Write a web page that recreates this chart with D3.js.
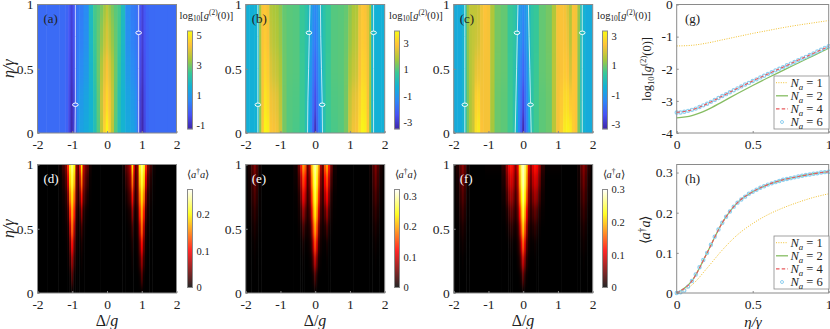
<!DOCTYPE html>
<html>
<head>
<meta charset="utf-8">
<script src="https://cdn.jsdelivr.net/npm/d3@7"></script>
<style>
  body { margin: 0; background: #fff; }
  svg { display: block; font-family: "Liberation Serif", serif; }
  .tick text { fill: #222; }
</style>
</head>
<body>
<svg id="chart" width="830" height="329"></svg>
<script>
// rows run from eta = 0 upward
const topEtas = [0, 0.25, 0.5, 0.75, 1];
const lowEtas = [0, 0.125, 0.25, 0.375, 0.5, 0.625, 0.75, 0.875, 1];

const deltaA = [-2, -1.5, -1.25, -1.15, -1.08, -1.02, -0.96, -0.9, -0.84, -0.75, -0.6, -0.45, -0.35, -0.25, -0.15, -0.07, 0,
  0.07, 0.15, 0.25, 0.35, 0.45, 0.6, 0.75, 0.84, 0.9, 0.96, 1.02, 1.08, 1.15, 1.25, 1.5, 2];
const g2A = [
  [.1,.1,.08,-.05,-.6,-1.2,-.8,0,.9,1.2,1.35,1.6,2,2.7,3.6,4.6,5.2,4.6,3.6,2.7,2,1.6,1.35,1.2,.9,0,-.8,-1.2,-.6,-.05,.08,.1,.1],
  [.1,.1,.08,-.05,-.5,-1.1,-.7,0,.75,1,1.25,1.6,2.1,2.8,3.7,4.3,4.7,4.3,3.7,2.8,2.1,1.6,1.25,1,.75,0,-.7,-1.1,-.5,-.05,.08,.1,.1],
  [.1,.1,.08,-.05,-.4,-.9,-.5,0,.5,.7,1,1.7,2.3,2.9,3.5,4,4.3,4,3.5,2.9,2.3,1.7,1,.7,.5,0,-.5,-.9,-.4,-.05,.08,.1,.1],
  [.1,.1,.08,-.05,-.3,-.75,-.4,0,.35,.5,.8,1.8,2.5,2.85,3.2,3.6,3.9,3.6,3.2,2.85,2.5,1.8,.8,.5,.35,0,-.4,-.75,-.3,-.05,.08,.1,.1],
  [.1,.1,.08,0,-.25,-.65,-.3,0,.3,.4,.7,1.9,2.6,2.75,3,3.3,3.6,3.3,3,2.75,2.6,1.9,.7,.4,.3,0,-.3,-.65,-.25,0,.08,.1,.1]
];

const deltaB = [-2, -1.8, -1.7, -1.64, -1.58, -1.52, -1.44, -1.36, -1.28, -1.2, -1.1, -1, -0.9, -0.75, -0.55, -0.35, -0.25, -0.18, -0.12, -0.06, 0,
  0.06, 0.12, 0.18, 0.25, 0.35, 0.55, 0.75, 0.9, 1, 1.1, 1.2, 1.28, 1.36, 1.44, 1.52, 1.58, 1.64, 1.7, 1.8, 2];
const g2B = [
  [-.35,-.35,-.3,0,1.5,2.9,3.8,3.7,2.9,2.8,2.7,2.2,1.3,1,.9,.75,.3,-.5,-1.3,-2.2,-3.3,-2.2,-1.3,-.5,.3,.75,.9,1,1.3,2.3,2.7,2.8,3.4,3.8,3.7,2.9,1.6,0,-.3,-.35,-.35],
  [-.35,-.35,-.3,0,1.5,2.8,3.5,3.3,2.7,2.6,2.5,2,1.3,1,.95,.75,.3,-.4,-1.2,-1.9,-2.6,-1.9,-1.2,-.4,.3,.75,.95,1,1.3,2.1,2.5,2.6,3.1,3.5,3.4,2.8,1.6,0,-.3,-.35,-.35],
  [-.35,-.35,-.3,0,1.6,2.8,3.2,3,2.4,2.2,2.1,1.8,1.25,1.05,1,.75,.35,-.2,-1,-1.6,-2.1,-1.6,-1,-.2,.35,.75,1,1.05,1.25,1.8,2.1,2.2,2.8,3.2,3.1,2.7,1.7,0,-.3,-.35,-.35],
  [-.35,-.35,-.3,0,1.7,2.8,3,2.8,2.1,1.95,1.85,1.6,1.2,1.05,1,.7,.4,0,-.8,-1.3,-1.6,-1.3,-.8,0,.4,.7,1,1.05,1.2,1.6,1.9,2,2.7,3,2.9,2.6,1.7,0,-.3,-.35,-.35],
  [-.35,-.35,-.3,0,1.8,2.8,2.9,2.7,1.9,1.8,1.75,1.5,1.15,1.05,1,.7,.45,.1,-.7,-1.1,-1.3,-1.1,-.7,.1,.45,.7,1,1.05,1.15,1.5,1.8,1.85,2.6,2.9,2.8,2.5,1.8,0,-.3,-.35,-.35]
];

const deltaC = [-2, -1.8, -1.72, -1.66, -1.6, -1.52, -1.44, -1.36, -1.28, -1.2, -1.1, -1, -0.9, -0.75, -0.55, -0.35, -0.25, -0.18, -0.12, -0.06, 0,
  0.06, 0.12, 0.18, 0.25, 0.35, 0.55, 0.75, 0.9, 1, 1.1, 1.2, 1.28, 1.36, 1.44, 1.52, 1.6, 1.68, 1.74, 1.82, 2];
const g2C = [
  [-.6,-.6,-.4,0,1,1.5,1.8,2.9,3.1,2.4,2.3,2.3,1.4,.9,.8,.55,.2,-.5,-1.4,-2.2,-3.3,-2.2,-1.4,-.5,.2,.55,.8,.9,1.6,2.3,2.6,3.1,3.2,3.1,2.6,2.4,1,0,-.4,-.6,-.6],
  [-.6,-.6,-.4,0,1,1.5,1.8,2.6,2.7,2.3,2.3,2.3,1.45,.9,.8,.55,.2,-.4,-1.3,-1.9,-2.6,-1.9,-1.3,-.4,.2,.55,.8,.9,1.6,2.3,2.5,2.8,2.8,2.5,2.5,2.4,1,0,-.4,-.6,-.6],
  [-.6,-.6,-.4,0,1.1,1.55,1.75,2.1,2.2,2.25,2.3,2.3,1.5,.95,.85,.5,.25,-.25,-1.1,-1.6,-2,-1.6,-1.1,-.25,.25,.5,.85,.95,1.6,2.25,2.35,2.5,2.4,1.9,2.4,2.4,1.1,0,-.4,-.6,-.6],
  [-.6,-.6,-.4,0,1.2,1.6,1.7,1.8,1.9,2.2,2.35,2.3,1.5,1,.85,.45,.3,-.1,-.9,-1.2,-1.6,-1.2,-.9,-.1,.3,.45,.85,1,1.55,2.3,2.35,2.35,2.2,1.6,2.35,2.3,1.2,0,-.4,-.6,-.6],
  [-.6,-.6,-.4,0,1.3,1.7,1.7,1.7,1.8,2.2,2.4,2.3,1.5,1,.85,.45,.3,0,-.8,-1.1,-1.3,-1.1,-.8,0,.3,.45,.85,1,1.5,2.3,2.35,2.3,2,1.5,2.35,2.3,1.3,0,-.4,-.6,-.6]
];

const deltaD = [-2, -1.45, -1.35, -1.25, -1.18, -1.12, -1.06, -1, -0.94, -0.88, -0.82, -0.78, -0.73, -0.68, -0.62, -0.56, -0.48, -0.4, 0,
  0.4, 0.48, 0.56, 0.62, 0.68, 0.73, 0.78, 0.82, 0.88, 0.94, 1, 1.06, 1.12, 1.18, 1.25, 1.35, 1.45, 2];
const photonD = [
  [0,0,0,0,0,0,0,0,0,0,0,0,0,0,0,0,0,0,0,0,0,0,0,0,0,0,0,0,0,0,0,0,0,0,0,0,0],
  [0,0,0,0,0,0,.004,.03,.004,0,0,0,0,0,0,0,0,0,0,0,0,0,0,0,0,0,0,0,.004,.03,.004,0,0,0,0,0,0],
  [0,0,0,0,0,.003,.02,.06,.02,.003,0,0,.004,0,0,0,0,0,0,0,0,0,0,0,.004,0,0,.003,.02,.06,.02,.003,0,0,0,0,0],
  [0,0,0,0,.001,.006,.04,.1,.04,.006,.001,.002,.01,.002,0,0,0,0,0,0,0,0,0,.002,.01,.002,.001,.006,.04,.1,.04,.006,.001,0,0,0,0],
  [0,0,0,.001,.003,.012,.07,.14,.07,.012,.003,.006,.025,.006,.002,0,0,0,0,0,0,0,.002,.006,.025,.006,.003,.012,.07,.14,.07,.012,.003,.001,0,0,0],
  [0,0,0,.002,.008,.025,.11,.165,.11,.02,.006,.015,.06,.012,.006,.002,0,0,0,0,0,.002,.006,.012,.06,.015,.006,.02,.11,.165,.11,.025,.008,.002,0,0,0],
  [0,0,.001,.005,.015,.05,.15,.19,.14,.04,.015,.04,.105,.035,.02,.008,.001,0,0,0,.001,.008,.02,.035,.105,.04,.015,.04,.14,.19,.15,.05,.015,.005,.001,0,0],
  [0,0,.002,.012,.03,.085,.185,.215,.175,.05,.025,.07,.15,.06,.035,.02,.003,0,0,0,.003,.02,.035,.06,.15,.07,.025,.05,.175,.215,.185,.085,.03,.012,.002,0,0],
  [0,0,.005,.025,.05,.12,.21,.235,.2,.06,.035,.1,.195,.08,.05,.035,.008,0,0,0,.008,.035,.05,.08,.195,.1,.035,.06,.2,.235,.21,.12,.05,.025,.005,0,0]
];

const deltaE = [-2, -1.88, -1.8, -1.74, -1.68, -1.6, -1.5, -0.7, -0.55, -0.46, -0.4, -0.34, -0.28, -0.22, -0.16, -0.1, -0.05, 0,
  0.05, 0.1, 0.16, 0.22, 0.28, 0.34, 0.4, 0.46, 0.55, 0.7, 1.5, 1.6, 1.68, 1.74, 1.8, 1.88, 2];
const photonE = [
  [0,0,0,0,0,0,0,0,0,0,0,0,0,0,0,0,0,0,0,0,0,0,0,0,0,0,0,0,0,0,0,0,0,0,0],
  [0,0,0,0,0,0,0,0,0,0,0,0,0,0,0,.002,.012,.035,.012,.002,0,0,0,0,0,0,0,0,0,0,0,0,0,0,0],
  [0,0,0,.002,0,0,0,0,0,0,0,.002,0,0,.003,.012,.05,.09,.05,.012,.003,0,0,.002,0,0,0,0,0,0,0,.002,0,0,0],
  [0,0,.002,.005,.002,0,0,0,0,0,.002,.008,.002,.003,.008,.03,.1,.15,.1,.03,.008,.003,.002,.008,.002,0,0,0,0,0,.002,.005,.002,0,0],
  [0,.001,.006,.012,.006,.001,0,0,0,.003,.01,.03,.012,.008,.015,.06,.15,.195,.15,.06,.015,.008,.012,.03,.01,.003,0,0,0,.001,.006,.012,.006,.001,0],
  [0,.003,.012,.022,.012,.002,0,0,.001,.008,.03,.07,.04,.015,.03,.1,.19,.23,.19,.1,.03,.015,.04,.07,.03,.008,.001,0,0,.002,.012,.022,.012,.003,0],
  [.001,.005,.02,.035,.02,.003,0,0,.002,.015,.06,.115,.08,.025,.045,.14,.22,.255,.22,.14,.045,.025,.08,.115,.06,.015,.002,0,0,.003,.02,.035,.02,.005,.001],
  [.001,.008,.028,.05,.028,.005,0,0,.005,.03,.09,.15,.12,.035,.06,.17,.245,.275,.245,.17,.06,.035,.12,.15,.09,.03,.005,0,0,.005,.028,.05,.028,.008,.001],
  [.002,.012,.035,.06,.035,.007,0,0,.008,.05,.13,.195,.16,.05,.08,.2,.265,.29,.265,.2,.08,.05,.16,.195,.13,.05,.008,0,0,.007,.035,.06,.035,.012,.002]
];

const deltaF = deltaE;
const photonF = [
  [0,0,0,0,0,0,0,0,0,0,0,0,0,0,0,0,0,0,0,0,0,0,0,0,0,0,0,0,0,0,0,0,0,0,0],
  [0,0,0,0,0,0,0,0,0,0,0,0,0,0,0,.003,.015,.04,.015,.003,0,0,0,0,0,0,0,0,0,0,0,0,0,0,0],
  [0,0,0,.002,0,0,0,0,0,0,0,.001,0,0,.004,.015,.055,.09,.055,.015,.004,0,0,.001,0,0,0,0,0,0,0,.002,0,0,0],
  [0,0,.003,.006,.003,0,0,0,0,0,.002,.005,.002,.002,.01,.035,.1,.15,.1,.035,.01,.002,.002,.005,.002,0,0,0,0,0,.003,.006,.003,0,0],
  [0,.001,.007,.013,.007,.001,0,0,0,.004,.012,.018,.012,.008,.02,.07,.15,.2,.15,.07,.02,.008,.012,.018,.012,.004,0,0,0,.001,.007,.013,.007,.001,0],
  [0,.003,.014,.024,.014,.002,0,0,.002,.012,.03,.04,.03,.018,.04,.11,.19,.235,.19,.11,.04,.018,.03,.04,.03,.012,.002,0,0,.002,.014,.024,.014,.003,0],
  [.001,.006,.022,.036,.022,.004,0,0,.006,.03,.06,.07,.055,.03,.06,.15,.225,.26,.225,.15,.06,.03,.055,.07,.06,.03,.006,0,0,.004,.022,.036,.022,.006,.001],
  [.001,.009,.03,.05,.03,.006,0,0,.012,.05,.085,.095,.08,.045,.08,.18,.25,.275,.25,.18,.08,.045,.08,.095,.085,.05,.012,0,0,.006,.03,.05,.03,.009,.001],
  [.002,.015,.04,.06,.04,.008,0,.002,.02,.07,.11,.12,.1,.06,.1,.2,.26,.28,.26,.2,.1,.06,.1,.12,.11,.07,.02,.002,0,.008,.04,.06,.04,.015,.002]
];

// zero contours, delta position at each of topEtas
const contourA = [[-0.92, -0.91, -0.91, -0.91, -0.91], [0.91, 0.91, 0.91, 0.91, 0.91]];
const contourB = [[-1.65, -1.65, -1.65, -1.65, -1.65], [-0.22, -0.21, -0.19, -0.17, -0.15], [0.21, 0.2, 0.18, 0.16, 0.15], [1.68, 1.68, 1.68, 1.68, 1.68]];
const contourC = [[-1.68, -1.68, -1.68, -1.68, -1.68], [-0.23, -0.21, -0.19, -0.17, -0.15], [0.23, 0.21, 0.19, 0.17, 0.15], [1.7, 1.7, 1.7, 1.7, 1.7]];
// contour label spots: [delta, eta]
const labelsA = [[-0.91, 0.22], [0.91, 0.78]];
const labelsB = [[-1.65, 0.22], [-0.18, 0.78], [0.2, 0.22], [1.68, 0.78]];
const labelsC = [[-1.68, 0.22], [-0.18, 0.78], [0.21, 0.22], [1.7, 0.78]];

const parulaColors = ["#3e26a8", "#4752f4", "#2d87f7", "#12b1d6", "#37c897", "#abc739", "#fec338", "#f9fb14"];
const hotColors = ["#000000", "#ff0000", "#ffff00", "#ffffff"];

const etaCoarse = [0, 0.1, 0.2, 0.3, 0.4, 0.5, 0.6, 0.7, 0.8, 0.9, 1];
const etaFine = [0, .025, .05, .075, .1, .125, .15, .175, .2, .225, .25, .275, .3, .325, .35, .375, .4, .425, .45, .475, .5,
  .525, .55, .575, .6, .625, .65, .675, .7, .725, .75, .775, .8, .825, .85, .875, .9, .925, .95, .975, 1];
const logNa1 = [-1.29, -1.27, -1.2, -1.1, -1, -0.9, -0.81, -0.72, -0.64, -0.57, -0.5];
const logNa2 = [-3.53, -3.46, -3.28, -3.03, -2.77, -2.52, -2.28, -2.05, -1.82, -1.59, -1.36];
const logNa4 = [-3.36, -3.28, -3.09, -2.85, -2.61, -2.38, -2.16, -1.95, -1.73, -1.52, -1.3];
const logNa6 = [-3.36, -3.36, -3.34, -3.31, -3.28, -3.24, -3.19, -3.14, -3.09, -3.03, -2.97, -2.91, -2.85, -2.79, -2.73, -2.67, -2.61, -2.55, -2.49, -2.44, -2.38,
  -2.33, -2.27, -2.22, -2.16, -2.11, -2.05, -2, -1.95, -1.89, -1.84, -1.79, -1.73, -1.68, -1.63, -1.57, -1.52, -1.46, -1.41, -1.35, -1.3];
const numNa1 = [0, 0.02, 0.062, 0.107, 0.145, 0.173, 0.195, 0.212, 0.226, 0.238, 0.247];
const numNa2 = [0, 0.03, 0.1, 0.175, 0.225, 0.252, 0.27, 0.282, 0.29, 0.297, 0.302];
const numNa4 = [0, 0.03, 0.1, 0.175, 0.225, 0.252, 0.27, 0.282, 0.29, 0.297, 0.302];
const numNa6 = [0, .002, .006, .016, .03, .046, .064, .082, .1, .12, .14, .158, .175, .19, .203, .215, .225, .233, .24, .247, .252,
  .257, .262, .266, .27, .273, .276, .279, .282, .284, .286, .288, .29, .292, .294, .295, .297, .298, .3, .301, .302];

const svg = d3.select("#chart");
const defs = svg.append("defs");
const frameColor = "#8a8a8a";

function makeColor(colors, lo, hi, stops) {
  const dom = stops ? stops.map(s => lo + s * (hi - lo)) : colors.map((c, i) => lo + i / (colors.length - 1) * (hi - lo));
  return d3.scaleLinear().domain(dom).range(colors).interpolate(d3.interpolateRgb).clamp(true);
}

// text with mixed italic / sub / sup pieces
function rich(parent, x, y, parts, size, opts = {}) {
  const t = parent.append("text").attr("x", x).attr("y", y)
    .attr("font-size", size)
    .attr("text-anchor", opts.anchor || "start")
    .attr("fill", opts.fill || "#222");
  if (opts.rotate) t.attr("transform", `rotate(-90 ${x} ${y})`);
  let shift = 0;
  parts.forEach(p => {
    const s = t.append("tspan").text(p.t);
    if (p.i) s.attr("font-style", "italic");
    const want = p.sub ? size * 0.25 : p.sup ? -size * 0.38 : 0;
    if (want !== shift) { s.attr("dy", want - shift); shift = want; }
    if (p.sub || p.sup) s.attr("font-size", size * 0.7);
  });
  return t;
}

const g2Label = [{ t: "log" }, { t: "10", sub: 1 }, { t: "[" }, { t: "g", i: 1 }, { t: "(2)", sup: 1 }, { t: "(0)]" }];
const photonLabel = [{ t: "⟨" }, { t: "a", i: 1 }, { t: "†", sup: 1 }, { t: "a", i: 1 }, { t: "⟩" }];

function frame(g, x, y, w, h) {
  g.append("rect").attr("x", x).attr("y", y).attr("width", w).attr("height", h)
    .attr("fill", "none").attr("stroke", frameColor).attr("stroke-width", 1);
}

function axes(g, xs, ys, xTicks, yTicks, size = 13.5) {
  const [bottom] = ys.range();
  const [left] = xs.range();
  const ax = g.append("g").attr("transform", `translate(0,${bottom})`)
    .call(d3.axisBottom(xs).tickValues(xTicks).tickFormat(d => String(d)).tickSizeInner(-2).tickSizeOuter(0).tickPadding(6));
  const ay = g.append("g").attr("transform", `translate(${left},0)`)
    .call(d3.axisLeft(ys).tickValues(yTicks).tickFormat(d => String(d)).tickSizeInner(-2).tickSizeOuter(0).tickPadding(4));
  [ax, ay].forEach(a => {
    a.selectAll("text").attr("font-size", size).attr("font-family", "Liberation Serif");
    a.selectAll("line").attr("stroke", frameColor);
    a.select(".domain").remove();
  });
}

function heatmap(cfg) {
  const { x, y, w, h, deltas, etas, rows, color, blur, id } = cfg;
  const xs = d3.scaleLinear().domain([-2, 2]).range([x, x + w]);
  const ys = d3.scaleLinear().domain([0, 1]).range([y + h, y]);
  const pad = 24;
  const g = svg.append("g");

  defs.append("clipPath").attr("id", "clip-" + id).append("rect")
    .attr("x", x).attr("y", y).attr("width", w).attr("height", h);
  defs.append("filter").attr("id", "blur-" + id)
    .attr("filterUnits", "userSpaceOnUse")
    .attr("color-interpolation-filters", "sRGB")
    .attr("x", x - pad).attr("y", y - pad).attr("width", w + 2 * pad).attr("height", h + 2 * pad)
    .append("feGaussianBlur").attr("stdDeviation", blur.join(" "));

  // cell edges sit halfway between neighbouring stops, the outer ones run past the frame
  const xEdge = j => j <= 0 ? x - pad : j >= deltas.length ? x + w + pad : xs((deltas[j - 1] + deltas[j]) / 2);
  const yEdge = i => i <= 0 ? y + h + pad : i >= etas.length ? y - pad : ys((etas[i - 1] + etas[i]) / 2);

  const cells = g.append("g").attr("clip-path", `url(#clip-${id})`)
    .append("g").attr("filter", `url(#blur-${id})`);
  cells.selectAll("g").data(rows).join("g")
    .selectAll("rect")
    .data((r, i) => r.map((v, j) => ({ v, i, j })))
    .join("rect")
    .attr("x", d => xEdge(d.j))
    .attr("y", d => yEdge(d.i + 1))
    .attr("width", d => xEdge(d.j + 1) - xEdge(d.j) + 0.5)
    .attr("height", d => yEdge(d.i) - yEdge(d.i + 1) + 0.5)
    .attr("fill", d => color(d.v));

  if (cfg.contours) {
    const line = d3.line().x(d => xs(d[0])).y(d => ys(d[1]));
    cfg.contours.forEach(c => {
      g.append("path").attr("d", line(c.map((v, i) => [v, etas[i]])))
        .attr("fill", "none").attr("stroke", "#fff").attr("stroke-opacity", 0.7).attr("stroke-width", 1);
    });
    g.selectAll("ellipse").data(cfg.labels).join("ellipse")
      .attr("cx", d => xs(d[0])).attr("cy", d => ys(d[1]))
      .attr("rx", 2.8).attr("ry", 1.7)
      .attr("fill", color(0)).attr("stroke", "#fff").attr("stroke-width", 1);
  }

  frame(g, x, y, w, h);
  axes(g, xs, ys, [-2, -1, 0, 1, 2], [0, 0.5, 1]);
  g.append("text").attr("x", x + 6).attr("y", y + 18.5).attr("font-size", 13)
    .attr("fill", cfg.letterFill).text(cfg.letter);

  if (cfg.yLabel) rich(svg, 14, y + h / 2, [{ t: "η/γ", i: 1 }], 16, { anchor: "middle", rotate: true });
}

function colorbar(cfg) {
  const { x, y, w, h, color, lo, hi, ticks } = cfg;
  const ys = d3.scaleLinear().domain([lo, hi]).range([y + h, y]);
  const g = svg.append("g");
  const steps = d3.range(0, h).map(i => ys.invert(y + i + 0.5));
  g.selectAll("rect").data(steps).join("rect")
    .attr("x", x).attr("width", w)
    .attr("y", d => ys(d) - 0.5).attr("height", 1.2)
    .attr("fill", d => color(d));
  frame(g, x, y, w, h);
  const a = g.append("g").attr("transform", `translate(${x + w},0)`)
    .call(d3.axisRight(ys).tickValues(ticks).tickFormat(d => String(d)).tickSize(0).tickPadding(4));
  a.selectAll("text").attr("font-size", 10.5).attr("font-family", "Liberation Serif");
  a.select(".domain").remove();
}

// ---- top row
const colA = makeColor(parulaColors, -1.27, 5.27);
const colB = makeColor(parulaColors, -3.5, 3.9);
const colC = makeColor(parulaColors, -3.34, 3.35);
const hotStops = [0, 0.375, 0.75, 1];
const colD = makeColor(hotColors, 0, 0.268, hotStops);
const colE = makeColor(hotColors, 0, 0.32, hotStops);
const colF = makeColor(hotColors, 0, 0.3, hotStops);

const panelX = [37.5, 245.7, 453.7];
const panelW = 139;
const topY = 4.5, lowY = 164.5, panelH = 128.5;
const topBlur = [0.6, 9], lowBlur = [0.6, 5];

heatmap({ id: "a", x: panelX[0], y: topY, w: panelW, h: panelH, deltas: deltaA, etas: topEtas, rows: g2A, color: colA, blur: topBlur, letter: "(a)", letterFill: "#222", contours: contourA, labels: labelsA, yLabel: true });
heatmap({ id: "b", x: panelX[1], y: topY, w: panelW, h: panelH, deltas: deltaB, etas: topEtas, rows: g2B, color: colB, blur: topBlur, letter: "(b)", letterFill: "#222", contours: contourB, labels: labelsB });
heatmap({ id: "c", x: panelX[2], y: topY, w: panelW, h: panelH, deltas: deltaC, etas: topEtas, rows: g2C, color: colC, blur: topBlur, letter: "(c)", letterFill: "#222", contours: contourC, labels: labelsC });
heatmap({ id: "d", x: panelX[0], y: lowY, w: panelW, h: panelH, deltas: deltaD, etas: lowEtas, rows: photonD, color: colD, blur: lowBlur, letter: "(d)", letterFill: "#fff", yLabel: true });
heatmap({ id: "e", x: panelX[1], y: lowY, w: panelW, h: panelH, deltas: deltaE, etas: lowEtas, rows: photonE, color: colE, blur: lowBlur, letter: "(e)", letterFill: "#fff" });
heatmap({ id: "f", x: panelX[2], y: lowY, w: panelW, h: panelH, deltas: deltaF, etas: lowEtas, rows: photonF, color: colF, blur: lowBlur, letter: "(f)", letterFill: "#fff" });

colorbar({ x: 187.5, y: 31, w: 5, h: 98, color: colA, lo: -1.27, hi: 5.27, ticks: [-1, 1, 3, 5] });
colorbar({ x: 394.5, y: 31, w: 5, h: 98, color: colB, lo: -3.5, hi: 3.9, ticks: [-3, -1, 1, 3] });
colorbar({ x: 602.5, y: 31, w: 5, h: 98, color: colC, lo: -3.34, hi: 3.35, ticks: [-3, -1, 1, 3] });
colorbar({ x: 187.5, y: 189.5, w: 5, h: 98, color: colD, lo: 0, hi: 0.268, ticks: [0, 0.1, 0.2] });
colorbar({ x: 394.5, y: 189.5, w: 5, h: 98, color: colE, lo: 0, hi: 0.32, ticks: [0, 0.1, 0.2, 0.3] });
colorbar({ x: 602.5, y: 189.5, w: 5, h: 98, color: colF, lo: 0, hi: 0.3, ticks: [0, 0.1, 0.2, 0.3] });

[[179.5, 18.5], [389, 18.5], [597, 18.5]].forEach(p => rich(svg, p[0], p[1], g2Label, 10.5));
[[187, 178], [394.5, 178], [602.5, 178]].forEach(p => rich(svg, p[0], p[1], photonLabel, 10.5));

[107, 315, 523].forEach(cx => rich(svg, cx, 326, [{ t: "Δ/" }, { t: "g", i: 1 }], 16, { anchor: "middle" }));

// ---- line panels
const lineX = 676.7, lineW = 152;
const xLine = d3.scaleLinear().domain([0, 1]).range([lineX, lineX + lineW]);

const naStyles = [
  { name: "1", color: "#f2c230", width: 1, dash: "1 1.4" },
  { name: "2", color: "#86bd63", width: 1.3, dash: null },
  { name: "4", color: "#e8595c", width: 1.1, dash: "3.5 2.2" },
  { name: "6", color: "#8fd0f0", marker: true }
];

function linePanel(cfg) {
  const { y, h, yDomain, yTicks, series, dots } = cfg;
  const ys = d3.scaleLinear().domain(yDomain).range([y + h, y]);
  const g = svg.append("g");
  const line = d3.line().x(d => xLine(d[0])).y(d => ys(d[1])).curve(d3.curveMonotoneX);

  const drawLine = (vals, st) => g.append("path")
    .attr("d", line(vals.map((v, i) => [etaCoarse[i], v])))
    .attr("fill", "none").attr("stroke", st.color)
    .attr("stroke-width", st.width).attr("stroke-dasharray", st.dash);

  drawLine(series[0], naStyles[0]);
  drawLine(series[1], naStyles[1]);
  g.selectAll("circle").data(dots).join("circle")
    .attr("cx", (d, i) => xLine(etaFine[i])).attr("cy", d => ys(d))
    .attr("r", 1.6).attr("fill", "none").attr("stroke", naStyles[3].color).attr("stroke-width", 1.2);
  drawLine(series[2], naStyles[2]);

  frame(g, lineX, y, lineW, h);
  axes(g, xLine, ys, [0, 0.5, 1], yTicks);
  g.append("text").attr("x", 685).attr("y", y + 18.5).attr("font-size", 13).attr("fill", "#222").text(cfg.letter);

  // legend
  const lx = 774, ly = y + 71.5, lw = 55, lh = 53;
  const leg = g.append("g");
  leg.append("rect").attr("x", lx).attr("y", ly).attr("width", lw).attr("height", lh)
    .attr("fill", "#fff").attr("stroke", frameColor).attr("stroke-width", 0.8);
  naStyles.forEach((st, i) => {
    const ry = ly + 6.7 + i * 13.1;
    if (st.marker) {
      leg.append("circle").attr("cx", lx + 8).attr("cy", ry).attr("r", 1.5)
        .attr("fill", "none").attr("stroke", st.color).attr("stroke-width", 1);
    } else {
      leg.append("line").attr("x1", lx + 2).attr("x2", lx + 14).attr("y1", ry).attr("y2", ry)
        .attr("stroke", st.color).attr("stroke-width", st.width).attr("stroke-dasharray", st.dash);
    }
    rich(leg, lx + 16.5, ry + 4, [{ t: "N", i: 1 }, { t: "a", i: 1, sub: 1 }, { t: " = " + st.name }], 12.5);
  });
}

linePanel({ y: topY, h: panelH, yDomain: [-4, 0], yTicks: [-4, -3, -2, -1, 0], series: [logNa1, logNa2, logNa4], dots: logNa6, letter: "(g)" });
linePanel({ y: lowY, h: panelH, yDomain: [0, 0.32], yTicks: [0, 0.1, 0.2, 0.3], series: [numNa1, numNa2, numNa4], dots: numNa6, letter: "(h)" });

rich(svg, 651, 69, [{ t: "log" }, { t: "10", sub: 1 }, { t: "[" }, { t: "g", i: 1 }, { t: "(2)", sup: 1 }, { t: "(0)]" }], 12.5, { anchor: "middle", rotate: true });
rich(svg, 650, 230, [{ t: "⟨" }, { t: "a", i: 1 }, { t: "†", sup: 1 }, { t: "a", i: 1 }, { t: "⟩" }], 14, { anchor: "middle", rotate: true });
rich(svg, 753, 327, [{ t: "η/γ", i: 1 }], 15, { anchor: "middle" });
</script>
</body>
</html>
